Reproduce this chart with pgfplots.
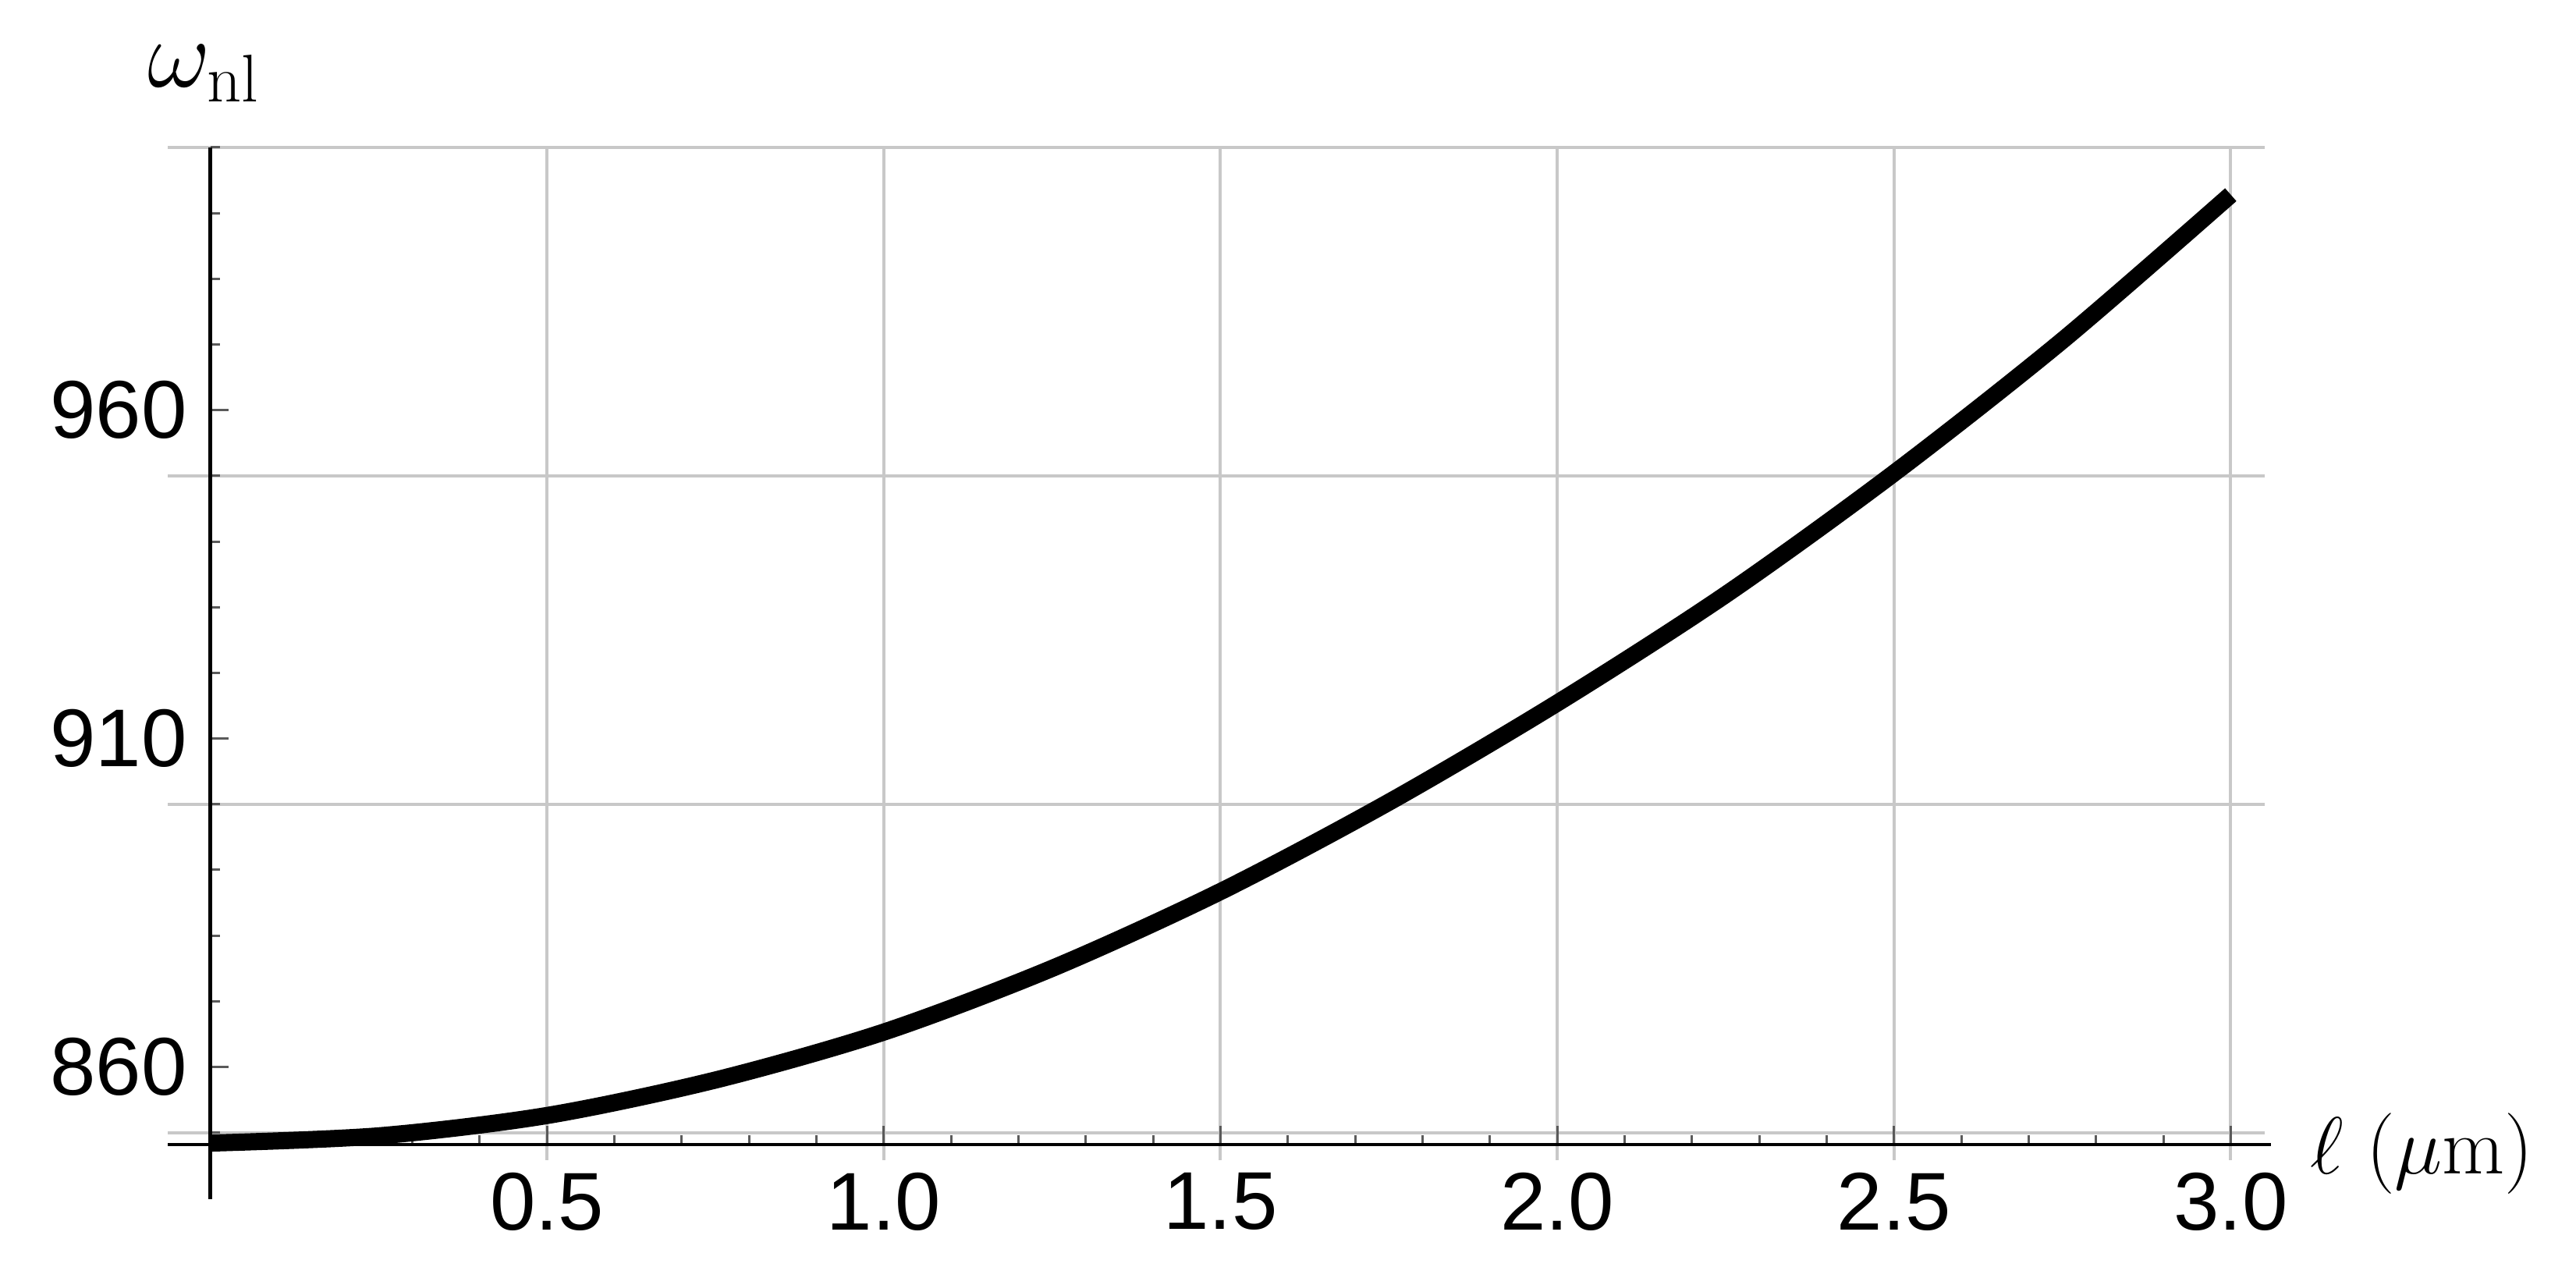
\documentclass[border=0pt]{standalone}
\usepackage{pgfplots}
\pgfplotsset{compat=1.18}
\usepackage[no-math]{fontspec}
\setmainfont{Liberation Sans}
\definecolor{gridc}{RGB}{200,200,200}
\definecolor{tickc}{RGB}{90,90,90}
\begin{document}
\begin{tikzpicture}
\begin{axis}[
  set layers,
  scale only axis, width=539.22pt, height=255.57pt,
  xmin=-0.063, xmax=3.06, ymin=848.2, ymax=1000,
  axis x line=bottom, axis y line=middle,
  axis line style={-, black, line width=0.85pt},
  every inner x axis line/.append style={-},
  every inner y axis line/.append style={-},
  every outer x axis line/.append style={-},
  every outer y axis line/.append style={-},
  clip=false,
  xtick={0.5,1,1.5,2,2.5,3}, xticklabels={0.5,1.0,1.5,2.0,2.5,3.0},
  minor xtick={0.1,0.2,0.3,0.4,0.6,0.7,0.8,0.9,1.1,1.2,1.3,1.4,1.6,1.7,1.8,1.9,2.1,2.2,2.3,2.4,2.6,2.7,2.8,2.9},
  ytick={860,910,960}, yticklabels={860,910,960},
  minor ytick={850,870,880,890,900,920,930,940,950,970,980,990,1000},
  tick align=inside,
  major tick length=4.7pt, minor tick length=2.4pt,
  every tick/.style={tickc, line width=0.6pt},
  tick label style={font=\fontsize{21}{25}\selectfont, inner sep=0pt},
  xticklabel style={anchor=north, yshift=-7pt},
  yticklabel style={anchor=east, xshift=-5.8pt},
  every axis x label/.style={at={(axis description cs:1,0)}, anchor=base west, xshift=9.8pt, yshift=-7.6pt, inner sep=0pt, font=\fontsize{21}{25}\selectfont},
  xlabel={$\ell\ (\mu\mathrm{m})$},
  every axis y label/.style={at={(axis description cs:0.02017,1)}, anchor=base west, xshift=-16.2pt, yshift=15.4pt, inner sep=0pt, font=\fontsize{25}{30}\selectfont},
  ylabel={$\omega_{\mathrm{nl}}$},
]
\begin{pgfonlayer}{axis grid}
\pgfplotsinvokeforeach{850,900,950,1000}{\draw[gridc, line width=0.8pt] (axis cs:-0.063,#1) -- (axis cs:3.05,#1);}
\pgfplotsinvokeforeach{0.5,1,1.5,2,2.5,3}{\draw[gridc, line width=0.8pt] (axis cs:#1,845.8) -- (axis cs:#1,1000);}
\end{pgfonlayer}
\draw[black, line width=0.85pt] (axis cs:0,848.2) -- (axis cs:0,839.87);
\addplot[black, line width=4.4pt, smooth] coordinates {
 (0,848.4) (0.25,849.5) (0.5,852.6) (0.75,858.0) (1.0,865.3) (1.25,875.0)
 (1.5,886.7) (1.75,900.3) (2.0,915.4) (2.25,931.9) (2.5,950.4) (2.75,970.6) (3.0,992.8)
};
\coordinate (BL) at (axis cs:-0.3122,826.8);
\coordinate (TR) at (axis cs:3.5127,1022.45);
\end{axis}
\path (BL) rectangle (TR);
\end{tikzpicture}
\end{document}
